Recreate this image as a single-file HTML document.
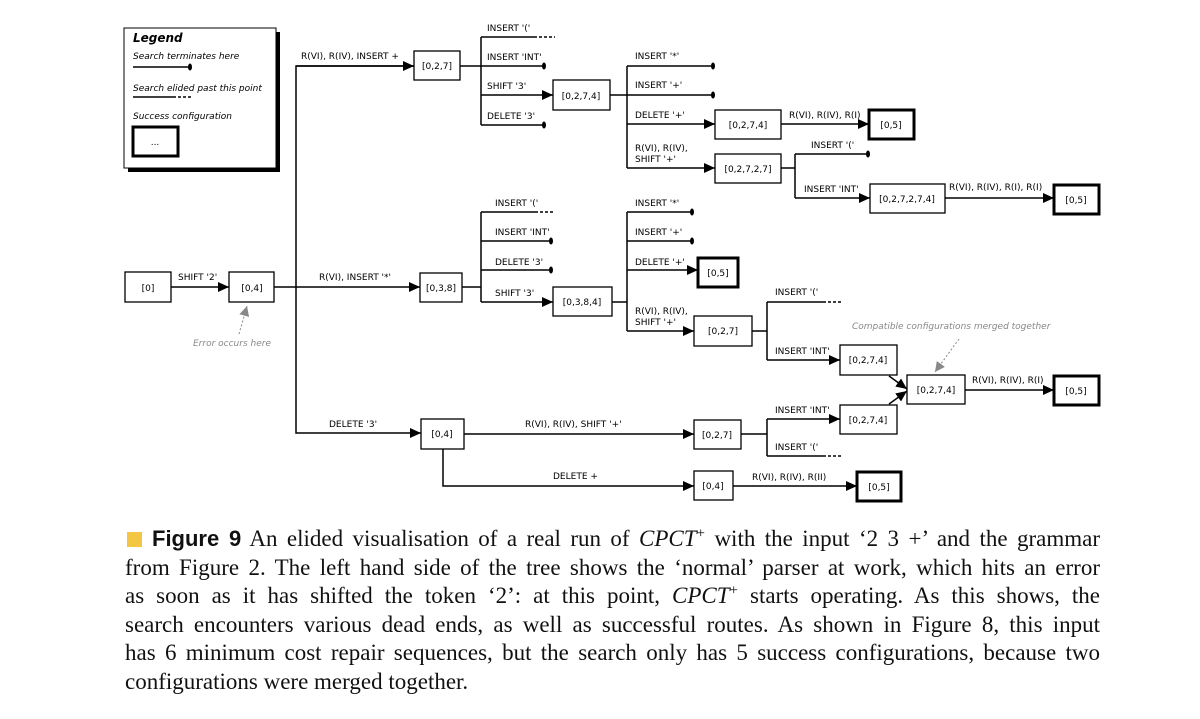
<!DOCTYPE html>
<html><head><meta charset="utf-8"><style>
body{margin:0;background:#fff;width:1200px;height:719px;overflow:hidden;position:relative}
svg{position:absolute;left:0;top:0}
.cap{position:absolute;left:125px;top:525px;width:975px;font-family:"Liberation Serif",serif;font-size:23px;line-height:28.6px;color:#111}
.cap div{text-align:justify;text-align-last:justify;white-space:nowrap}
.cap div.last{text-align-last:left}
.fig{font-family:"Liberation Sans",sans-serif;font-weight:bold;font-size:22px}
.sq{display:inline-block;width:15px;height:15px;background:#f3c744;margin:0 10px 0 2px;vertical-align:-1px}
i{font-style:italic}
sup{font-size:15px;line-height:0}
</style></head><body>
<svg width="1200" height="520" font-family="DejaVu Sans, Liberation Sans, sans-serif" font-size="9" fill="none" stroke="#000" stroke-width="1.5">
<defs>
<marker id="a" markerUnits="userSpaceOnUse" markerWidth="11" markerHeight="10" refX="11" refY="5" orient="auto"><path d="M0,0L11,5L0,10z" fill="#000" stroke="none"/></marker>
<marker id="g" markerUnits="userSpaceOnUse" markerWidth="10" markerHeight="10" refX="10" refY="5" orient="auto"><path d="M0,0L10,5L0,10z" fill="#888" stroke="none"/></marker>
</defs>
<!-- legend -->
<rect x="128" y="32" width="152" height="140" fill="#000" stroke="none"/>
<rect x="124" y="28" width="152" height="140" fill="#fff" stroke-width="1"/>
<g fill="#000" stroke="none">
<text x="133" y="42" font-weight="bold" font-style="italic" font-size="12">Legend</text>
<text x="133" y="59" font-style="italic">Search terminates here</text>
<text x="133" y="91" font-style="italic">Search elided past this point</text>
<text x="133" y="119" font-style="italic">Success configuration</text>
</g>
<line x1="133" y1="67" x2="190" y2="67"/><ellipse cx="190" cy="67" rx="2" ry="3.5" fill="#000" stroke="none"/>
<line x1="133" y1="97" x2="176" y2="97"/><line x1="178" y1="97" x2="192" y2="97" stroke-dasharray="3,2"/>
<rect x="133" y="127" width="45" height="29" stroke-width="3"/>
<text x="155" y="145" fill="#000" stroke="none" text-anchor="middle">...</text>

<!-- boxes -->
<g stroke-width="1.3" fill="#fff">
<rect x="125" y="272" width="46" height="30"/>
<rect x="229" y="272" width="45" height="30"/>
<rect x="414" y="51" width="46" height="29"/>
<rect x="553" y="80" width="57" height="30"/>
<rect x="715" y="110" width="66" height="29"/>
<rect x="715" y="154" width="66" height="29"/>
<rect x="870" y="184" width="75" height="29"/>
<rect x="420" y="273" width="42" height="29"/>
<rect x="553" y="287" width="59" height="29"/>
<rect x="694" y="316" width="58" height="30"/>
<rect x="840" y="345" width="57" height="30"/>
<rect x="907" y="375" width="58" height="29"/>
<rect x="840" y="405" width="57" height="29"/>
<rect x="421" y="419" width="43" height="30"/>
<rect x="694" y="420" width="47" height="29"/>
<rect x="694" y="471" width="39" height="29"/>
</g>
<g stroke-width="3" fill="#fff">
<rect x="869" y="110" width="45" height="29"/>
<rect x="1054" y="185" width="45" height="29"/>
<rect x="698" y="258" width="40" height="29"/>
<rect x="1054" y="376" width="45" height="29"/>
<rect x="857" y="472" width="44" height="29"/>
</g>
<g fill="#000" stroke="none" text-anchor="middle">
<text x="148" y="291">[0]</text><text x="252" y="291">[0,4]</text>
<text x="437" y="69">[0,2,7]</text><text x="581" y="99">[0,2,7,4]</text>
<text x="748" y="128">[0,2,7,4]</text><text x="748" y="172">[0,2,7,2,7]</text>
<text x="907" y="202">[0,2,7,2,7,4]</text><text x="441" y="291">[0,3,8]</text>
<text x="582" y="305">[0,3,8,4]</text><text x="723" y="334">[0,2,7]</text>
<text x="868" y="363">[0,2,7,4]</text><text x="936" y="393">[0,2,7,4]</text>
<text x="868" y="423">[0,2,7,4]</text><text x="442" y="437">[0,4]</text>
<text x="717" y="438">[0,2,7]</text><text x="713" y="489">[0,4]</text>
<text x="891" y="128">[0,5]</text><text x="1076" y="203">[0,5]</text>
<text x="718" y="276">[0,5]</text><text x="1076" y="394">[0,5]</text>
<text x="879" y="490">[0,5]</text>
</g>

<!-- connectors -->
<g>
<line x1="171" y1="287" x2="229" y2="287" marker-end="url(#a)"/>
<line x1="274" y1="287" x2="420" y2="287" marker-end="url(#a)"/>
<polyline points="414,66 296,66 296,433 421,433" marker-end="url(#a)"/>
<line x1="296" y1="66" x2="414" y2="66" marker-end="url(#a)"/>
<line x1="460" y1="66" x2="481" y2="66"/>
<line x1="481" y1="37" x2="481" y2="125"/>
<line x1="481" y1="37" x2="537" y2="37"/><line x1="539" y1="37" x2="555" y2="37" stroke-dasharray="3,2"/>
<line x1="481" y1="66" x2="544" y2="66"/>
<line x1="481" y1="95" x2="553" y2="95" marker-end="url(#a)"/>
<line x1="481" y1="125" x2="544" y2="125"/>
<line x1="610" y1="95" x2="627" y2="95"/>
<line x1="627" y1="66" x2="627" y2="168"/>
<line x1="627" y1="66" x2="713" y2="66"/>
<line x1="627" y1="95" x2="713" y2="95"/>
<line x1="627" y1="124" x2="715" y2="124" marker-end="url(#a)"/>
<line x1="627" y1="168" x2="715" y2="168" marker-end="url(#a)"/>
<line x1="781" y1="124" x2="869" y2="124" marker-end="url(#a)"/>
<line x1="781" y1="168" x2="795" y2="168"/>
<line x1="795" y1="154" x2="795" y2="198"/>
<line x1="795" y1="154" x2="868" y2="154"/>
<line x1="795" y1="198" x2="870" y2="198" marker-end="url(#a)"/>
<line x1="945" y1="198" x2="1054" y2="198" marker-end="url(#a)"/>
<line x1="462" y1="287" x2="481" y2="287"/>
<line x1="481" y1="212" x2="481" y2="302"/>
<line x1="481" y1="212" x2="538" y2="212"/><line x1="540" y1="212" x2="555" y2="212" stroke-dasharray="3,2"/>
<line x1="481" y1="241" x2="551" y2="241"/>
<line x1="481" y1="270" x2="551" y2="270"/>
<line x1="481" y1="302" x2="553" y2="302" marker-end="url(#a)"/>
<line x1="612" y1="302" x2="627" y2="302"/>
<line x1="627" y1="212" x2="627" y2="331"/>
<line x1="627" y1="212" x2="692" y2="212"/>
<line x1="627" y1="241" x2="692" y2="241"/>
<line x1="627" y1="270" x2="698" y2="270" marker-end="url(#a)"/>
<line x1="627" y1="331" x2="694" y2="331" marker-end="url(#a)"/>
<line x1="752" y1="331" x2="767" y2="331"/>
<line x1="767" y1="302" x2="767" y2="360"/>
<line x1="767" y1="302" x2="826" y2="302"/><line x1="828" y1="302" x2="842" y2="302" stroke-dasharray="3,2"/>
<line x1="767" y1="360" x2="840" y2="360" marker-end="url(#a)"/>
<line x1="889" y1="376" x2="907" y2="389" marker-end="url(#a)"/>
<line x1="889" y1="404" x2="907" y2="391" marker-end="url(#a)"/>
<line x1="965" y1="390" x2="1054" y2="390" marker-end="url(#a)"/>
<line x1="464" y1="434" x2="694" y2="434" marker-end="url(#a)"/>
<line x1="741" y1="434" x2="767" y2="434"/>
<line x1="767" y1="419" x2="767" y2="456"/>
<line x1="767" y1="419" x2="840" y2="419" marker-end="url(#a)"/>
<line x1="767" y1="456" x2="826" y2="456"/><line x1="828" y1="456" x2="842" y2="456" stroke-dasharray="3,2"/>
<polyline points="443,449 443,486 694,486" marker-end="url(#a)"/>
<line x1="733" y1="486" x2="857" y2="486" marker-end="url(#a)"/>
</g>
<g fill="#000" stroke="none">
<ellipse cx="544" cy="66" rx="2" ry="3.5"/><ellipse cx="544" cy="125" rx="2" ry="3.5"/>
<ellipse cx="713" cy="66" rx="2" ry="3.5"/><ellipse cx="713" cy="95" rx="2" ry="3.5"/>
<ellipse cx="868" cy="154" rx="2" ry="3.5"/>
<ellipse cx="551" cy="241" rx="2" ry="3.5"/><ellipse cx="551" cy="270" rx="2" ry="3.5"/>
<ellipse cx="692" cy="212" rx="2" ry="3.5"/><ellipse cx="692" cy="241" rx="2" ry="3.5"/>
</g>
<line x1="239" y1="334" x2="247" y2="306" stroke="#888" stroke-width="1" stroke-dasharray="2,2" marker-end="url(#g)"/>
<line x1="959" y1="339" x2="935" y2="372" stroke="#888" stroke-width="1" stroke-dasharray="2,2" marker-end="url(#g)"/>
<g fill="#888" stroke="none" font-style="italic">
<text x="193" y="346">Error occurs here</text>
<text x="852" y="329">Compatible configurations merged together</text>
</g>
<g fill="#000" stroke="none">
<text x="178" y="280">SHIFT '2'</text>
<text x="301" y="59">R(VI), R(IV), INSERT +</text>
<text x="319" y="280">R(VI), INSERT '*'</text>
<text x="329" y="427">DELETE '3'</text>
<text x="487" y="31">INSERT '('</text>
<text x="487" y="60">INSERT 'INT'</text>
<text x="487" y="89">SHIFT '3'</text>
<text x="487" y="119">DELETE '3'</text>
<text x="635" y="59">INSERT '*'</text>
<text x="635" y="88">INSERT '+'</text>
<text x="635" y="118">DELETE '+'</text>
<text x="635" y="151">R(VI), R(IV),</text>
<text x="635" y="162">SHIFT '+'</text>
<text x="789" y="118">R(VI), R(IV), R(I)</text>
<text x="811" y="148">INSERT '('</text>
<text x="804" y="192">INSERT 'INT'</text>
<text x="949" y="190">R(VI), R(IV), R(I), R(I)</text>
<text x="495" y="206">INSERT '('</text>
<text x="495" y="235">INSERT 'INT'</text>
<text x="495" y="265">DELETE '3'</text>
<text x="495" y="296">SHIFT '3'</text>
<text x="635" y="206">INSERT '*'</text>
<text x="635" y="235">INSERT '+'</text>
<text x="635" y="265">DELETE '+'</text>
<text x="635" y="314">R(VI), R(IV),</text>
<text x="635" y="325">SHIFT '+'</text>
<text x="775" y="295">INSERT '('</text>
<text x="775" y="354">INSERT 'INT'</text>
<text x="972" y="383">R(VI), R(IV), R(I)</text>
<text x="775" y="413">INSERT 'INT'</text>
<text x="775" y="450">INSERT '('</text>
<text x="525" y="427">R(VI), R(IV), SHIFT '+'</text>
<text x="553" y="479">DELETE +</text>
<text x="752" y="480">R(VI), R(IV), R(II)</text>
</g>
</svg>
<div class="cap">
<div><span class="sq"></span><span class="fig">Figure 9</span> An elided visualisation of a real run of <i>CPCT</i><sup>+</sup> with the input ‘2 3 +’ and the grammar</div>
<div>from Figure 2. The left hand side of the tree shows the ‘normal’ parser at work, which hits an error</div>
<div>as soon as it has shifted the token ‘2’: at this point, <i>CPCT</i><sup>+</sup> starts operating. As this shows, the</div>
<div>search encounters various dead ends, as well as successful routes. As shown in Figure 8, this input</div>
<div>has 6 minimum cost repair sequences, but the search only has 5 success configurations, because two</div>
<div class="last">configurations were merged together.</div>
</div>
</body></html>
